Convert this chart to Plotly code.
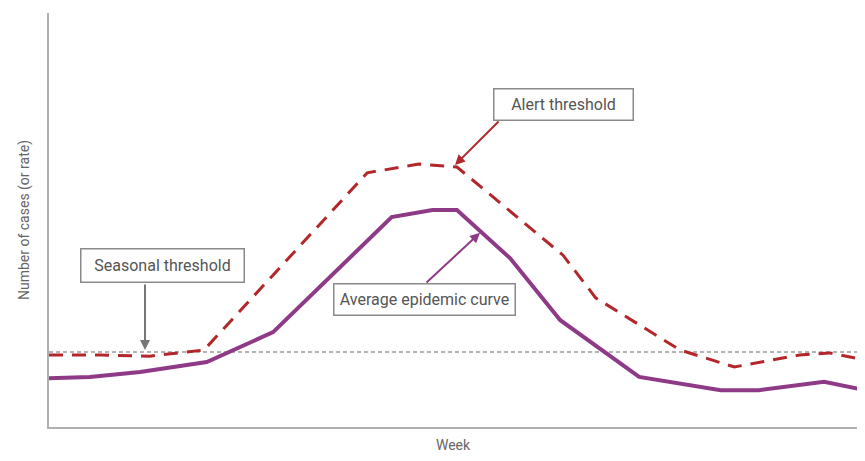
import plotly.graph_objects as go

# Weeks (x) and values (y)
avg_weeks = [0, 1.5, 3.35, 5.8, 8.24, 12.6, 14.1, 15.0, 16.95, 18.8, 21.7, 24.7, 26.1, 28.5, 30]
avg_values = [11.8, 12.1, 13.3, 15.7, 22.9, 50.7, 52.4, 52.4, 40.8, 25.8, 12.1, 8.9, 8.9, 10.9, 8.9]

alert_weeks = [0, 1.9, 3.7, 5.7, 11.7, 13.6, 15.0, 18.9, 20.1, 23.2, 25.2, 27.6, 28.7, 30]
alert_values = [17.4, 17.4, 17.1, 18.6, 61.4, 63.5, 62.8, 41.5, 31.2, 18.6, 14.5, 17.4, 17.9, 16.2]

seasonal_weeks = [0, 30]
seasonal_values = [18.1, 18.1]

x_title = "Week"
y_title = "Number of cases (or rate)"

PURPLE = "#8e3a87"
RED = "#b3262a"
GREY = "#8a8a8a"
TEXT = "#555555"
FONT = "Roboto, Arial, sans-serif"

fig = go.Figure()
fig.add_trace(go.Scatter(x=seasonal_weeks, y=seasonal_values, mode="lines",
                         line=dict(color="#9a9a9a", width=1.5, dash="4px,3px"),
                         name="Seasonal threshold", hoverinfo="skip"))
fig.add_trace(go.Scatter(x=avg_weeks, y=avg_values, mode="lines",
                         line=dict(color=PURPLE, width=4), name="Average epidemic curve"))
fig.add_trace(go.Scatter(x=alert_weeks, y=alert_values, mode="lines",
                         line=dict(color=RED, width=3, dash="14px,9px"), name="Alert threshold"))

box = dict(showarrow=False, bordercolor=GREY, borderwidth=1.5, bgcolor="white",
           font=dict(family=FONT, size=16, color=TEXT), xref="x", yref="y")
fig.add_annotation(text="Seasonal threshold", x=4.19, y=39.1, width=160, height=30, **box)
fig.add_annotation(text="Alert threshold", x=18.9, y=78.0, width=136, height=28, **box)
fig.add_annotation(text="Average epidemic curve", x=13.8, y=30.7, width=178, height=28, **box)

arrow = dict(text="", showarrow=True, arrowhead=2, arrowsize=1, arrowwidth=2,
             xref="x", yref="y", axref="pixel", ayref="pixel")
fig.add_annotation(x=3.53, y=18.6, ax=0, ay=-67, arrowcolor="#777777", **arrow)
fig.add_annotation(x=14.93, y=63.3, ax=45, ay=-45, arrowcolor=RED, **arrow)
fig.add_annotation(x=15.85, y=46.9, ax=-55, ay=51, arrowcolor=PURPLE, **arrow)

# the page adds an 8px body margin, so the figure is smaller and offset;
# the visible part of the week axis is cut at the right edge as in the reference
fig.update_layout(
    width=849, height=445,
    margin=dict(l=41, r=0, t=5, b=26),
    paper_bgcolor="white", plot_bgcolor="white",
    showlegend=False,
    font=dict(family=FONT, color=TEXT),
)
fig.update_xaxes(range=[0, 29.71], showgrid=False, zeroline=False, showticklabels=False,
                 ticks="", showline=True, linecolor="#b0b0b0", linewidth=2,
                 title=dict(text=x_title, standoff=13, font=dict(size=14, color="#666666")),
                 automargin=False)
fig.update_yaxes(range=[0, 100], showgrid=False, zeroline=False, showticklabels=False,
                 ticks="", showline=True, linecolor="#b0b0b0", linewidth=2,
                 title=dict(text=y_title, standoff=14, font=dict(size=14, color="#666666")),
                 automargin=False)

fig.write_html("out.html", config={"responsive": False})
